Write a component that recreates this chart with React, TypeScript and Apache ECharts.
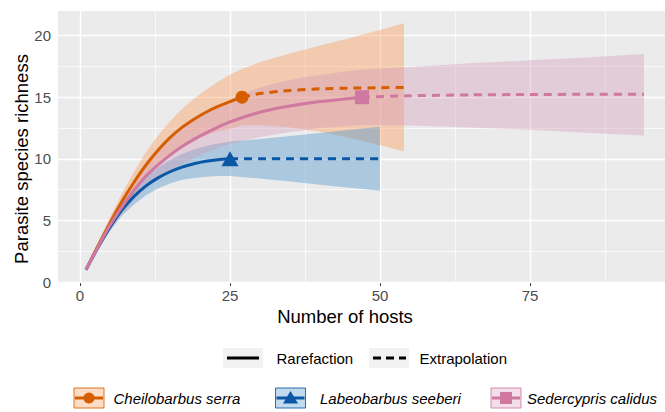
import React, { useEffect, useRef } from 'react';
import * as echarts from 'echarts';

// ---------- data ----------
const xTicks = [0, 25, 50, 75];
const yTicks = [0, 5, 10, 15, 20];
const xMinor = [12.5, 37.5, 62.5, 87.5];
const yMinor = [2.5, 7.5, 12.5, 17.5];

const speciesNames = ['Cheilobarbus serra', 'Labeobarbus seeberi', 'Sedercypris calidus'];
const methodNames = ['Rarefaction', 'Extrapolation'];
const xTitle = 'Number of hosts';
const yTitle = 'Parasite species richness';

// Cheilobarbus serra
const serraRareN = [1, 3, 5, 7, 9, 11, 13, 15, 17, 19, 21, 23, 25, 27];
const serraRareS = [1, 2.95, 4.8, 6.55, 8.1, 9.5, 10.7, 11.72, 12.55, 13.22, 13.78, 14.25, 14.65, 15];
const serraExtN = [27, 30, 35, 40, 45, 50, 54];
const serraExtS = [15, 15.3, 15.55, 15.68, 15.74, 15.77, 15.8];
const serraCiN = [1, 3, 5, 7, 9, 11, 13, 15, 17, 19, 21, 23, 25, 27, 30, 35, 40, 45, 50, 54];
const serraCiLo = [1, 2.75, 4.35, 5.95, 7.25, 8.5, 9.55, 10.4, 11.05, 11.5, 11.9, 12.25, 12.45, 12.7, 12.75, 12.55, 12.2, 11.7, 11.1, 10.6];
const serraCiHi = [1, 3.15, 5.25, 7.2, 8.95, 10.55, 11.9, 13.05, 14.05, 14.9, 15.6, 16.25, 16.85, 17.3, 17.85, 18.55, 19.2, 19.8, 20.45, 21.0];
const serraObs = [27, 15];

// Labeobarbus seeberi
const seeberiRareN = [1, 3, 5, 7, 9, 11, 13, 15, 17, 19, 21, 23, 25];
const seeberiRareS = [1, 2.8, 4.45, 5.85, 6.95, 7.8, 8.45, 8.95, 9.33, 9.6, 9.8, 9.93, 10];
const seeberiExtN = [25, 30, 35, 40, 45, 50];
const seeberiExtS = [10, 10, 10, 10, 10, 10];
const seeberiCiN = [1, 3, 5, 7, 9, 11, 13, 15, 17, 19, 21, 23, 25, 30, 35, 40, 45, 50];
const seeberiCiLo = [1, 2.65, 4.15, 5.4, 6.3, 7.05, 7.6, 8.0, 8.3, 8.45, 8.55, 8.6, 8.6, 8.4, 8.15, 7.9, 7.65, 7.4];
const seeberiCiHi = [1, 2.95, 4.8, 6.35, 7.6, 8.55, 9.3, 9.9, 10.4, 10.75, 11.05, 11.25, 11.4, 11.6, 11.85, 12.1, 12.35, 12.6];
const seeberiObs = [25, 10];

// Sedercypris calidus
const calidusRareN = [1, 3, 5, 7, 9, 11, 13, 15, 17, 19, 21, 23, 25, 28, 31, 34, 37, 40, 43, 47];
const calidusRareS = [1, 2.85, 4.6, 6.1, 7.45, 8.6, 9.5, 10.3, 11.0, 11.58, 12.1, 12.58, 13.0, 13.5, 13.9, 14.2, 14.45, 14.65, 14.8, 15];
const calidusExtN = [47, 55, 65, 75, 85, 94];
const calidusExtS = [15, 15.12, 15.19, 15.22, 15.24, 15.25];
const calidusCiN = [1, 3, 5, 7, 9, 11, 13, 15, 17, 19, 21, 23, 25, 28, 31, 34, 37, 40, 43, 47, 55, 65, 75, 85, 94];
const calidusCiLo = [1, 2.65, 4.2, 5.5, 6.65, 7.6, 8.35, 9.0, 9.55, 10.05, 10.5, 10.9, 11.2, 11.55, 11.85, 12.1, 12.3, 12.5, 12.6, 12.75, 12.7, 12.55, 12.35, 12.1, 11.9];
const calidusCiHi = [1, 3.05, 5.0, 6.7, 8.25, 9.6, 10.65, 11.6, 12.45, 13.1, 13.7, 14.25, 14.8, 15.45, 15.95, 16.3, 16.6, 16.8, 17.0, 17.25, 17.45, 17.75, 18.0, 18.25, 18.5];
const calidusObs = [47, 15];

// ---------- styles ----------
const FONT = '"Liberation Sans", Arial, Helvetica, sans-serif';
const C_ORANGE = '#D55E00';
const C_BLUE = '#0A57A6';
const C_PINK = '#CF78A0';
const F_ORANGE = 'rgba(252,146,75,0.37)';
const F_BLUE = 'rgba(75,148,204,0.40)';
const F_PINK = 'rgba(212,150,182,0.36)';

const zip = (a: number[], b: number[]) => a.map((v, i) => [v, b[i]]);

function ribbon(name: string, xs: number[], lo: number[], hi: number[], fill: string, z: number) {
  return {
    type: 'custom',
    name,
    z,
    silent: true,
    data: [[xs[0], lo[0]]],
    encode: { x: 0, y: 1 },
    renderItem: (_params: any, api: any) => {
      const pts: number[][] = [];
      for (let i = 0; i < xs.length; i++) pts.push(api.coord([xs[i], hi[i]]));
      for (let i = xs.length - 1; i >= 0; i--) pts.push(api.coord([xs[i], lo[i]]));
      return { type: 'polygon', shape: { points: pts }, style: { fill, stroke: 'none' } };
    },
  };
}

function line(name: string, xs: number[], ys: number[], color: string, dashed: boolean) {
  return {
    type: 'line',
    name,
    z: 4,
    silent: true,
    data: zip(xs, ys),
    showSymbol: false,
    smooth: 0.2,
    lineStyle: { color, width: 3, type: dashed ? [8, 6] : 'solid', cap: 'butt' },
  };
}

function marker(name: string, pt: number[], color: string, symbol: string, size: any) {
  return {
    type: 'scatter',
    name,
    z: 5,
    silent: true,
    data: [pt],
    symbol,
    symbolSize: size,
    itemStyle: { color, opacity: 1 },
  };
}

export default function App() {
  const ref = useRef<HTMLDivElement>(null);
  useEffect(() => {
    if (!ref.current) return;
    const chart = echarts.init(ref.current, undefined, { renderer: 'svg' });

    const gridLines = [
      ...xTicks.map((v) => ({ xAxis: v, lineStyle: { color: '#FFFFFF', width: 1.4, type: 'solid' } })),
      ...xMinor.map((v) => ({ xAxis: v, lineStyle: { color: '#FFFFFF', width: 0.7, type: 'solid' } })),
      ...yTicks.map((v) => ({ yAxis: v, lineStyle: { color: '#FFFFFF', width: 1.4, type: 'solid' } })),
      ...yMinor.map((v) => ({ yAxis: v, lineStyle: { color: '#FFFFFF', width: 0.7, type: 'solid' } })),
    ];

    const legendY1 = 358;
    const legendY2 = 398;
    const keyText = { fontSize: 15, fontFamily: FONT, fill: '#000' };

    const speciesKey = (x: number, fill: string, color: string, shape: any) => [
      { type: 'rect', shape: { x, y: legendY2 - 10, width: 30, height: 20 }, style: { fill, stroke: color, lineWidth: 1, opacity: 0.85 } },
      { type: 'line', shape: { x1: x + 1, y1: legendY2, x2: x + 29, y2: legendY2 }, style: { stroke: color, lineWidth: 3 } },
      shape,
    ];

    chart.setOption({
      animation: false,
      grid: { left: 58, right: 0, top: 11, bottom: 130, show: true, backgroundColor: '#EBEBEB', borderWidth: 0, containLabel: false },
      xAxis: {
        type: 'value',
        min: -3.667,
        max: 97.5,
        axisLine: { show: false },
        splitLine: { show: false },
        axisTick: { show: true, customValues: xTicks, length: 4, lineStyle: { color: '#333333', width: 1 } },
        axisLabel: { customValues: xTicks, color: '#4D4D4D', fontSize: 15, fontFamily: FONT, margin: 6 },
      },
      yAxis: {
        type: 'value',
        min: 0,
        max: 22,
        axisLine: { show: false },
        splitLine: { show: false },
        axisTick: { show: true, customValues: yTicks, length: 4, lineStyle: { color: '#333333', width: 1 } },
        axisLabel: { customValues: yTicks, color: '#4D4D4D', fontSize: 15, fontFamily: FONT, margin: 7 },
      },
      series: [
        {
          type: 'line',
          name: 'grid',
          z: 1,
          silent: true,
          data: [[0, 0]],
          showSymbol: false,
          lineStyle: { opacity: 0 },
          markLine: { silent: true, z: 1, symbol: ['none', 'none'], label: { show: false }, animation: false, data: gridLines },
        },
        ribbon('ci-serra', serraCiN, serraCiLo, serraCiHi, F_ORANGE, 2),
        ribbon('ci-seeberi', seeberiCiN, seeberiCiLo, seeberiCiHi, F_BLUE, 2),
        ribbon('ci-calidus', calidusCiN, calidusCiLo, calidusCiHi, F_PINK, 2),
        line('serra-rare', serraRareN, serraRareS, C_ORANGE, false),
        line('serra-ext', serraExtN, serraExtS, C_ORANGE, true),
        line('seeberi-rare', seeberiRareN, seeberiRareS, C_BLUE, false),
        line('seeberi-ext', seeberiExtN, seeberiExtS, C_BLUE, true),
        line('calidus-rare', calidusRareN, calidusRareS, C_PINK, false),
        line('calidus-ext', calidusExtN, calidusExtS, C_PINK, true),
        marker('serra-obs', serraObs, C_ORANGE, 'circle', 13),
        marker('seeberi-obs', seeberiObs, C_BLUE, 'triangle', [17, 15]),
        marker('calidus-obs', calidusObs, C_PINK, 'rect', 14),
      ],
      graphic: [
        { type: 'text', x: 345, y: 316, style: { text: xTitle, fontSize: 18.5, fontFamily: FONT, fill: '#000', textAlign: 'center', textVerticalAlign: 'middle' } },
        { type: 'text', x: 21, y: 159, rotation: Math.PI / 2, style: { text: yTitle, fontSize: 18.5, fontFamily: FONT, fill: '#000', textAlign: 'center', textVerticalAlign: 'middle' } },
        // method legend
        { type: 'rect', shape: { x: 223, y: legendY1 - 10, width: 40, height: 20 }, style: { fill: '#F2F2F2' } },
        { type: 'line', shape: { x1: 227, y1: legendY1, x2: 259, y2: legendY1 }, style: { stroke: '#000', lineWidth: 3 } },
        { type: 'text', x: 276.5, y: legendY1, style: { text: methodNames[0], ...keyText, textVerticalAlign: 'middle' } },
        { type: 'rect', shape: { x: 369, y: legendY1 - 10, width: 40, height: 20 }, style: { fill: '#F2F2F2' } },
        { type: 'line', shape: { x1: 373, y1: legendY1, x2: 406, y2: legendY1 }, style: { stroke: '#000', lineWidth: 3, lineDash: [8, 5] } },
        { type: 'text', x: 419.5, y: legendY1, style: { text: methodNames[1], ...keyText, textVerticalAlign: 'middle' } },
        // species legend
        ...speciesKey(74, F_ORANGE, C_ORANGE, { type: 'circle', shape: { cx: 89, cy: legendY2, r: 5.5 }, style: { fill: C_ORANGE } }),
        { type: 'text', x: 113.5, y: legendY2, style: { text: speciesNames[0], ...keyText, fontStyle: 'italic', textVerticalAlign: 'middle' } },
        ...speciesKey(275.5, F_BLUE, C_BLUE, { type: 'polygon', shape: { points: [[290.5, legendY2 - 7], [283, legendY2 + 5.5], [298, legendY2 + 5.5]] }, style: { fill: C_BLUE } }),
        { type: 'text', x: 320, y: legendY2, style: { text: speciesNames[1], ...keyText, fontStyle: 'italic', textVerticalAlign: 'middle' } },
        ...speciesKey(491, F_PINK, C_PINK, { type: 'rect', shape: { x: 500, y: legendY2 - 6, width: 12, height: 12 }, style: { fill: C_PINK } }),
        { type: 'text', x: 527, y: legendY2, style: { text: speciesNames[2], ...keyText, fontStyle: 'italic', textVerticalAlign: 'middle' } },
      ],
    });
    return () => chart.dispose();
  }, []);
  return <div ref={ref} style={{ position: 'absolute', left: 0, top: 0, width: 665, height: 412 }} />;
}
